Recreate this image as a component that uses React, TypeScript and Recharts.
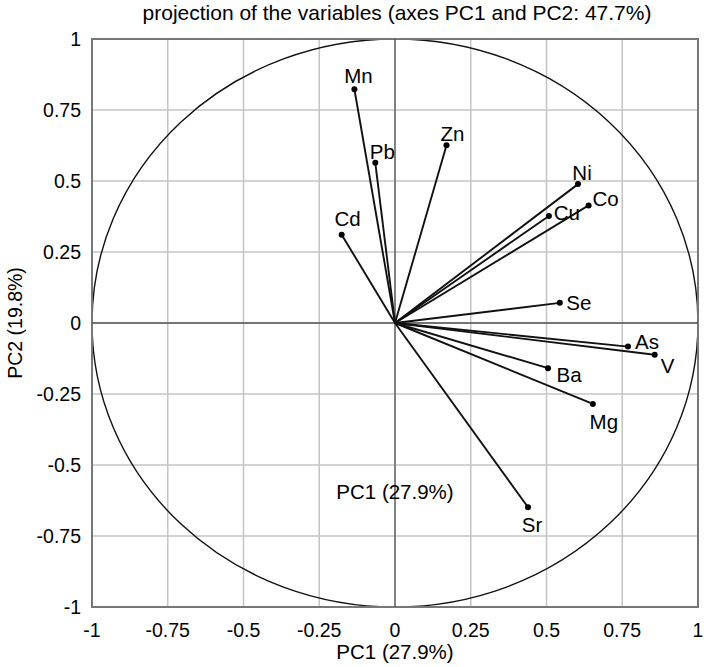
import React from "react";
import {
  ScatterChart,
  Scatter,
  XAxis,
  YAxis,
  CartesianGrid,
  ReferenceLine,
  ReferenceArea,
  ReferenceDot,
} from "recharts";

// loadings
const variables = ["Mn", "Pb", "Zn", "Ni", "Co", "Cu", "Cd", "Se", "As", "V", "Ba", "Mg", "Sr"];
const pc1 = [-0.134, -0.065, 0.17, 0.604, 0.639, 0.508, -0.176, 0.544, 0.769, 0.857, 0.505, 0.653, 0.439];
const pc2 = [0.823, 0.564, 0.626, 0.489, 0.414, 0.377, 0.311, 0.071, -0.083, -0.112, -0.159, -0.285, -0.649];
const axisTicks = [-1, -0.75, -0.5, -0.25, 0, 0.25, 0.5, 0.75, 1];

const TITLE = "projection of the variables (axes PC1 and PC2: 47.7%)";
const X_LABEL = "PC1 (27.9%)";
const Y_LABEL = "PC2 (19.8%)";

// label offsets (px) from each point
const labelOffset: Record<string, [number, number]> = {
  Mn: [4, -14],
  Pb: [7, -11],
  Zn: [6, -12],
  Ni: [4, -12],
  Co: [17, -7],
  Cu: [18, -3],
  Cd: [6, -16],
  Se: [19, 0],
  As: [19, -5],
  V: [13, 11],
  Ba: [21, 6],
  Mg: [11, 18],
  Sr: [4, 17],
};

const FONT = "'Liberation Sans', Arial, sans-serif";

const data = variables.map((name, i) => ({ name, x: pc1[i], y: pc2[i] }));

const fmt = (v: number) => String(v);

const PointShape = (props: any) => {
  const { cx, cy, payload } = props;
  const [dx, dy] = labelOffset[payload.name] || [0, -12];
  return (
    <g>
      <circle cx={cx} cy={cy} r={3} fill="#000" />
      <text
        x={cx + dx}
        y={cy + dy}
        textAnchor="middle"
        dominantBaseline="central"
        fontSize={20.5}
        fontFamily={FONT}
        fill="#000"
      >
        {payload.name}
      </text>
    </g>
  );
};

const FrameShape = (props: any) => {
  const { x, y, width, height } = props;
  return (
    <g>
      <ellipse
        cx={x + width / 2}
        cy={y + height / 2}
        rx={width / 2}
        ry={height / 2}
        fill="none"
        stroke="#111"
        strokeWidth={1.4}
      />
      <rect x={x} y={y} width={width} height={height} fill="none" stroke="#777" strokeWidth={2} />
    </g>
  );
};

export default function App() {
  const tickStyle = { fontSize: 19.5, fill: "#000", fontFamily: FONT };
  const labelStyle = { fontSize: 20.5, fill: "#000", fontFamily: FONT, textAnchor: "middle" as const };
  return (
    <div style={{ position: "absolute", left: 0, top: 0, width: 704, height: 667, background: "#fff", fontFamily: FONT }}>
      <div
        style={{
          position: "absolute",
          left: 397,
          top: 1,
          transform: "translateX(-50%)",
          whiteSpace: "nowrap",
          fontSize: 21,
          color: "#000",
        }}
      >
        {TITLE}
      </div>
      <ScatterChart width={704} height={667} margin={{ top: 39, right: 6, bottom: 0, left: 0 }}>
        <CartesianGrid stroke="#c4c4c4" strokeWidth={1.5} />
        <XAxis
          type="number"
          dataKey="x"
          domain={[-1, 1]}
          ticks={axisTicks}
          tickFormatter={fmt}
          axisLine={false}
          tickLine={false}
          tickSize={0}
          tickMargin={16}
          height={60}
          tick={tickStyle}
          interval={0}
          label={{ value: X_LABEL, position: "insideBottom", offset: 8, style: labelStyle }}
        />
        <YAxis
          type="number"
          dataKey="y"
          domain={[-1, 1]}
          ticks={axisTicks}
          tickFormatter={fmt}
          axisLine={false}
          tickLine={false}
          tickSize={0}
          tickMargin={11}
          width={92}
          tick={tickStyle}
          interval={0}
          label={{ value: Y_LABEL, angle: -90, position: "insideLeft", offset: 15, style: { ...labelStyle, fontSize: 19.5 } }}
        />
        <ReferenceLine x={0} stroke="#555" strokeWidth={1.3} />
        <ReferenceLine y={0} stroke="#555" strokeWidth={1.3} />
        <ReferenceArea x1={-1} x2={1} y1={-1} y2={1} shape={FrameShape} />
        <ReferenceDot
          x={0}
          y={-0.595}
          r={0}
          fill="none"
          stroke="none"
          label={{ value: X_LABEL, position: "center", style: labelStyle }}
        />
        {data.map((d) => (
          <ReferenceLine
            key={d.name}
            segment={[
              { x: 0, y: 0 },
              { x: d.x, y: d.y },
            ]}
            stroke="#111"
            strokeWidth={1.9}
          />
        ))}
        <Scatter data={data} shape={PointShape} isAnimationActive={false} />
      </ScatterChart>
    </div>
  );
}
